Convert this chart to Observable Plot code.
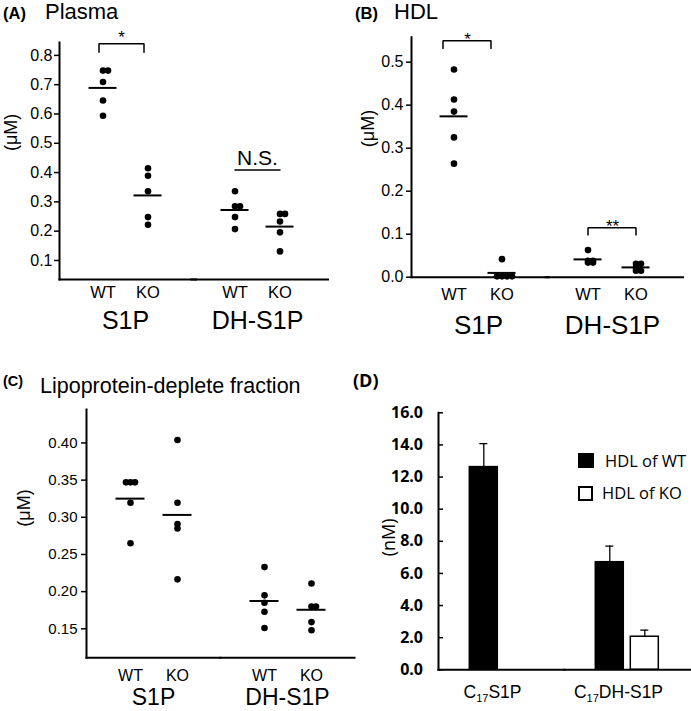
<!DOCTYPE html>
<html>
<head>
<meta charset="utf-8">
<script src="https://cdn.jsdelivr.net/npm/d3@7"></script>
<script src="https://cdn.jsdelivr.net/npm/@observablehq/plot@0.6"></script>
<style>
  body { margin: 0; background: #fff; }
  #fig { position: relative; width: 691px; height: 711px; overflow: hidden; background: #fff; }
  .panel { position: absolute; }
  .panel svg { max-width: none !important; }
  #overlay { position: absolute; left: 0; top: 0; pointer-events: none; }
</style>
</head>
<body>
<div id="fig"></div>
<script>
// ---------------- data ----------------
const groups = ["S1P", "DH-S1P"];
const genotypes = ["WT", "KO"];

// (A) Plasma (µM)
const plasmaS1pWT = [0.748, 0.748, 0.709, 0.646, 0.594];
const plasmaS1pKO = [0.415, 0.389, 0.336, 0.248, 0.222];
const plasmaDhWT  = [0.336, 0.285, 0.285, 0.248, 0.207];
const plasmaDhKO  = [0.259, 0.259, 0.233, 0.196, 0.131];
const plasmaTicks = [0.1, 0.2, 0.3, 0.4, 0.5, 0.6, 0.7, 0.8];
const plasmaSig = [
  {group: "S1P", kind: "bracket", label: "*", top: 0.84, leg: 0.811},
  {group: "DH-S1P", kind: "line", label: "N.S.", top: 0.409}
];

// (B) HDL (µM)
const hdlS1pWT = [0.483, 0.413, 0.385, 0.325, 0.264];
const hdlS1pKO = [0.042, 0.002, 0.002, 0.002, 0.002];
const hdlDhWT  = [0.063, 0.038, 0.038, 0.034, 0.034];
const hdlDhKO  = [0.031, 0.031, 0.022, 0.015, 0.015];
const hdlTicks = [0.0, 0.1, 0.2, 0.3, 0.4, 0.5];
const hdlSig = [
  {group: "S1P", kind: "bracket", label: "*", top: 0.55, leg: 0.532},
  {group: "DH-S1P", kind: "bracket", label: "**", top: 0.115, leg: 0.098}
];

// (C) Lipoprotein-deplete fraction (µM)
const lpdS1pWT = [0.347, 0.347, 0.347, 0.3195, 0.265];
const lpdS1pKO = [0.404, 0.3195, 0.291, 0.285, 0.2165];
const lpdDhWT  = [0.233, 0.195, 0.185, 0.173, 0.151];
const lpdDhKO  = [0.211, 0.180, 0.180, 0.159, 0.148];
const lpdTicks = [0.15, 0.20, 0.25, 0.30, 0.35, 0.40];

// (D) C17 standards in HDL (nM)
const compounds = ["C17S1P", "C17DH-S1P"];
const hdlOfWTMean = [12.62, 6.70];
const hdlOfWTErr  = [1.46, 1.00];
const hdlOfKOMean = [null, 2.06];
const hdlOfKOErr  = [null, 0.41];
const dTicks = [0, 2, 4, 6, 8, 10, 12, 14, 16];
const legendLabels = ["HDL of WT", "HDL of KO"];

// ---------------- helpers ----------------
const FONT = "'Liberation Sans', Arial, sans-serif";
const DFONT = "'Open Sans', 'Liberation Sans', sans-serif";

function makeRows(s1pWT, s1pKO, dhWT, dhKO) {
  const rows = [];
  const add = (group, genotype, arr) => arr.forEach(v => rows.push({group, genotype, value: v}));
  add("S1P", "WT", s1pWT); add("S1P", "KO", s1pKO);
  add("DH-S1P", "WT", dhWT); add("DH-S1P", "KO", dhKO);
  // spread tied values side by side (0, +1, -1, +2 ...)
  const seen = new Map();
  for (const d of rows) {
    const k = d.group + "|" + d.genotype + "|" + d.value;
    const i = seen.get(k) || 0; seen.set(k, i + 1);
    d.off = i % 2 ? (i + 1) / 2 : -i / 2;
  }
  return rows;
}

function sigMarks(sig, dxBy, starDy) {
  return sig.flatMap(s => {
    const dx = dxBy[s.group] || 0;
    if (s.kind === "bracket") {
      const pts = [
        {group: s.group, x: "WT", y: s.leg}, {group: s.group, x: "WT", y: s.top},
        {group: s.group, x: "KO", y: s.top}, {group: s.group, x: "KO", y: s.leg}
      ];
      return [
        Plot.line(pts, {fx: "group", x: "x", y: "y", stroke: "black", strokeWidth: 1.5, strokeLinejoin: "miter", dx}),
        Plot.text([s], {fx: "group", y: "top", text: "label", lineAnchor: "bottom", fontSize: 17, dx, dy: starDy})
      ];
    }
    const pts = [{group: s.group, x: "WT", y: s.top}, {group: s.group, x: "KO", y: s.top}];
    return [
      Plot.line(pts, {fx: "group", x: "x", y: "y", stroke: "black", strokeWidth: 1.5, dx}),
      Plot.text([s], {fx: "group", y: "top", text: "label", lineAnchor: "bottom", fontSize: 21, dx, dy: -5})
    ];
  });
}

function scatterPanel(c) {
  const rows = c.rows;
  const offs = [...new Set(rows.map(d => d.off))];
  return Plot.plot({
    width: c.width, height: c.height,
    marginLeft: c.ml, marginRight: c.mr, marginTop: c.mt, marginBottom: c.mb,
    style: {fontFamily: FONT, color: "black", background: "transparent", overflow: "visible"},
    fx: {domain: groups, padding: 0},
    x: {type: "band", domain: genotypes, paddingInner: c.pi, paddingOuter: c.po},
    y: {domain: c.yDomain},
    marks: [
      Plot.frame({anchor: "left", facetAnchor: "left", stroke: "black", strokeWidth: 2}),
      Plot.frame({anchor: "bottom", stroke: "black", strokeWidth: 2, insetRight: c.extendRight}),
      Plot.axisY({ticks: c.yTicks, tickFormat: d3.format(c.yFormat), tickSize: 5, tickPadding: c.tickPad,
                  fontSize: c.tickFont, strokeWidth: 1.5, label: null}),
      Plot.axisX({tickSize: 0, tickPadding: c.xPad, fontSize: c.xFont, label: null}),
      Plot.axisFx({anchor: "bottom", tickSize: 0, tickPadding: c.fxPad, fontSize: c.groupFont, label: null}),
      Plot.text(["(μM)"], {text: d => d, frameAnchor: "left", facetAnchor: "left", rotate: -90,
                           lineAnchor: "middle", dx: c.labelDx, dy: c.labelDy, fontSize: 18}),
      Plot.tickY(rows, Plot.groupX({y: "mean"}, {fx: "group", x: "genotype", y: "value", stroke: "black", strokeWidth: 2})),
      ...offs.map(o => Plot.dot(rows.filter(d => d.off === o),
        {fx: "group", x: "genotype", y: "value", r: 3.3, fill: "black", dx: o * c.spread})),
      ...sigMarks(c.sig || [], c.sigDx || {}, c.starDy)
    ]
  });
}

function place(svg, left, top) {
  const div = document.createElement("div");
  div.className = "panel";
  div.style.left = left + "px";
  div.style.top = top + "px";
  div.appendChild(svg);
  document.getElementById("fig").appendChild(div);
}

// ---------------- panels ----------------
place(scatterPanel({
  rows: makeRows(plasmaS1pWT, plasmaS1pKO, plasmaDhWT, plasmaDhKO),
  width: 345, height: 340, ml: 58.5, mr: 22.5, mt: 42, mb: 61,
  yDomain: [0.035, 0.844], yTicks: plasmaTicks, yFormat: ".1f", tickPad: 2, tickFont: 16,
  pi: 0.374, po: 0.6375, xPad: 6.5, xFont: 16.5, fxPad: 31.5, groupFont: 25, extendRight: -4.5,
  labelDx: -48.5, labelDy: -10, spread: 5,
  sig: plasmaSig, sigDx: {"S1P": -4}, starDy: -1
}), 0, 0);

place(scatterPanel({
  rows: makeRows(hdlS1pWT, hdlS1pKO, hdlDhWT, hdlDhKO),
  width: 346, height: 340, ml: 65.5, mr: 12.5, mt: 36.7, mb: 63.3,
  yDomain: [0, 0.558], yTicks: hdlTicks, yFormat: ".1f", tickPad: 3, tickFont: 16,
  pi: 0.412, po: 0.5875, xPad: 11, xFont: 16.5, fxPad: 38.5, groupFont: 26, extendRight: -3.5,
  labelDx: -43.5, labelDy: -10, spread: 5,
  sig: hdlSig, sigDx: {"S1P": -11}, starDy: 4
}), 345, 0);

place(scatterPanel({
  rows: makeRows(lpdS1pWT, lpdS1pKO, lpdDhWT, lpdDhKO),
  width: 360, height: 351, ml: 85.5, mr: 5.5, mt: 51, mb: 51.7,
  yDomain: [0.111, 0.445], yTicks: lpdTicks, yFormat: ".2f", tickPad: 4, tickFont: 15,
  pi: 0.3895, po: 0.6105, xPad: 12, xFont: 16, fxPad: 31, groupFont: 23, extendRight: 0,
  labelDx: -62.5, labelDy: -7, spread: 4.5,
  sig: [], starDy: 0
}), 0, 358);

// (D) bar chart
const dRows = [];
compounds.forEach((c, i) => {
  if (hdlOfWTMean[i] != null) dRows.push({compound: c, genotype: "WT", value: hdlOfWTMean[i], err: hdlOfWTErr[i]});
  if (hdlOfKOMean[i] != null) dRows.push({compound: c, genotype: "KO", value: hdlOfKOMean[i], err: hdlOfKOErr[i]});
});

const dSvg = Plot.plot({
  width: 346, height: 351, marginLeft: 92.7, marginRight: 1, marginTop: 52.3, marginBottom: 41.7,
  style: {fontFamily: FONT, color: "black", background: "transparent", overflow: "visible"},
  fx: {domain: compounds, padding: 0},
  x: {type: "band", domain: genotypes, paddingInner: 0.194, paddingOuter: 0.849, axis: null},
  y: {domain: [0, 16]},
  color: {domain: genotypes, range: ["black", "white"]},
  marks: [
    Plot.ruleX(dRows, {fx: "compound", x: "genotype", y1: "value", y2: d => d.value + d.err, stroke: "black", strokeWidth: 1.3}),
    Plot.tickY(dRows, {fx: "compound", x: "genotype", y: d => d.value + d.err, insetLeft: 10, insetRight: 10, stroke: "black", strokeWidth: 1.3}),
    Plot.barY(dRows, {fx: "compound", x: "genotype", y: "value", fill: "genotype", stroke: "black", strokeWidth: 1.5}),
    Plot.frame({anchor: "left", facetAnchor: "left", stroke: "black", strokeWidth: 2}),
    Plot.frame({anchor: "bottom", stroke: "black", strokeWidth: 2}),
    Plot.axisY({ticks: dTicks, tickSize: 5, dx: 5, tickFormat: () => "", strokeWidth: 1.5, label: null}),
    Plot.axisY({ticks: dTicks, tickSize: 0, tickPadding: 15.5, tickFormat: d3.format(".1f"),
                fontSize: 16, fontWeight: "bold", fontFamily: DFONT, label: null}),
    Plot.axisFx({anchor: "bottom", tickSize: 0, tickPadding: 16, fontSize: 17.5, dx: -9, label: null}),
    Plot.text(["(nM)"], {text: d => d, frameAnchor: "left", facetAnchor: "left", rotate: -90,
                         lineAnchor: "middle", dx: -49.7, dy: 15, fontSize: 18, fontFamily: DFONT})
  ]
});
// subscript "17" in compound names
d3.select(dSvg).selectAll("text").each(function () {
  const t = this.textContent;
  if (/^C17/.test(t)) {
    const sel = d3.select(this);
    sel.text(null);
    sel.append("tspan").text("C");
    sel.append("tspan").attr("font-size", "11px").attr("dy", "4px").text("17");
    sel.append("tspan").attr("dy", "-4px").text(t.slice(3));
  }
});
place(dSvg, 345, 360);

// ---------------- titles & legend overlay ----------------
const ov = d3.select("#fig").append("svg").attr("id", "overlay")
  .attr("width", 691).attr("height", 711)
  .style("font-family", FONT);
function title(x, y, txt, size, weight, family) {
  return ov.append("text").attr("x", x).attr("y", y).attr("font-size", size)
    .attr("font-weight", weight || "normal").attr("font-family", family || FONT)
    .attr("fill", "black").text(txt);
}
title(3, 18.5, "(A)", 16.5, "bold");
title(45, 18.5, "Plasma", 22);
title(355, 18.5, "(B)", 16.5, "bold");
title(394, 18.5, "HDL", 22);
title(3, 386, "(C)", 14.5, "bold");
title(40, 393, "Lipoprotein-deplete fraction", 21.5);
title(353, 387, "(D)", 18, "bold", DFONT);

// legend for (D)
ov.append("rect").attr("x", 578).attr("y", 453).attr("width", 16).attr("height", 15).attr("fill", "black");
ov.append("text").attr("x", 605).attr("y", 467).attr("font-size", 16.5).attr("font-family", DFONT).text(legendLabels[0]);
ov.append("rect").attr("x", 579).attr("y", 487).attr("width", 13).attr("height", 13)
  .attr("fill", "white").attr("stroke", "black").attr("stroke-width", 2);
ov.append("text").attr("x", 602).attr("y", 499).attr("font-size", 16.5).attr("font-family", DFONT).text(legendLabels[1]);
</script>
</body>
</html>
